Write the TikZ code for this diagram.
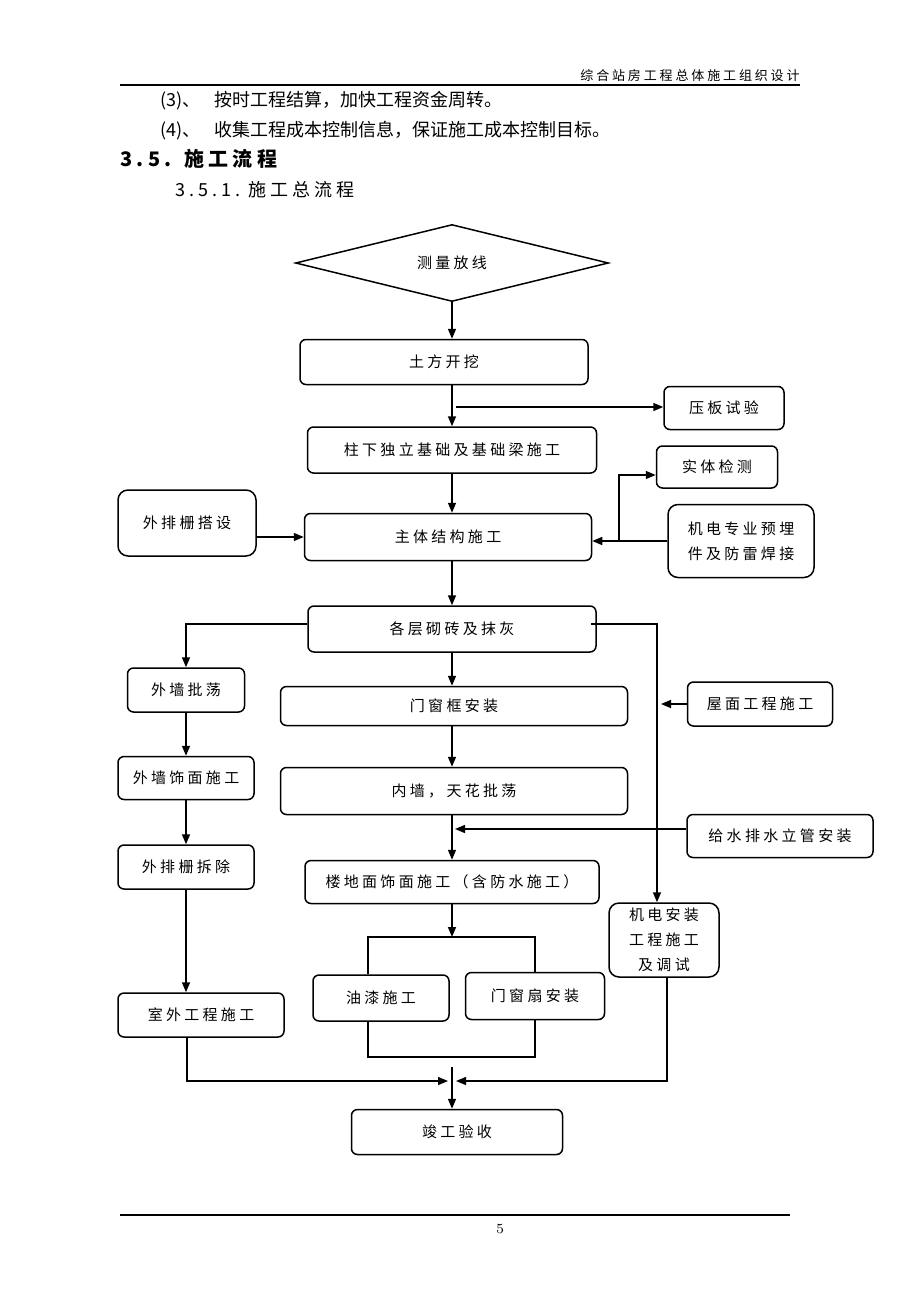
\documentclass[tikz,border=0pt]{standalone}
\usepackage{fontspec}
\newfontfamily\cjk[LetterSpace=22]{Noto Sans CJK SC}
\newfontfamily\cjktext{Noto Sans CJK SC}
\usetikzlibrary{shapes.geometric,arrows.meta}
\begin{document}
\begin{tikzpicture}[x=0.5pt,y=-0.5pt,
  box/.style={draw, rounded corners=3pt, line width=0.75pt, inner sep=0pt, align=center,
    font=\cjk\fontsize{7.5}{12.5}\selectfont},
  arr/.style={line width=0.75pt, -{Triangle[length=5pt,width=4pt]}},
  ln/.style={line width=0.75pt}]
\useasboundingbox (0,0) rectangle (920,1302);

% page head and text
\node[anchor=base east, inner sep=0pt, font=\cjk\fontsize{6.5}{8}\selectfont] (head) at (800,80) {综合站房工程总体施工组织设计};
\draw[line width=1pt] (120,85) -- (800,85);
\node[anchor=base west, inner sep=0pt, font=\cjktext\fontsize{9}{11}\selectfont] (p3) at (160,106) {(3)、\hspace{7pt}按时工程结算，加快工程资金周转。};
\node[anchor=base west, inner sep=0pt, font=\cjktext\fontsize{9}{11}\selectfont] (p4) at (160,136) {(4)、\hspace{7pt}收集工程成本控制信息，保证施工成本控制目标。};
\node[anchor=base west, inner sep=0pt, font=\cjk\bfseries\fontsize{10}{12}\selectfont] (s35) at (120,166) {3.5.\hspace{6pt}施工流程};
\node[anchor=base west, inner sep=0pt, font=\cjk\fontsize{9}{11}\selectfont] (s351) at (175,196) {3.5.1.\hspace{4pt}施工总流程};

% boxes
\node[draw, diamond, shape aspect=4, line width=0.75pt, minimum width=156.5pt, minimum height=38.5pt, inner sep=0pt,
  font=\cjk\fontsize{7.5}{12.5}\selectfont] (celiang) at (452,263) {测量放线};
\node[box, minimum width=144pt, minimum height=22.5pt] (tufang) at (444,362) {土方开挖};
\node[box, minimum width=60pt, minimum height=21.5pt] (yaban) at (724,408) {压板试验};
\node[box, minimum width=144.5pt, minimum height=23pt] (jichu) at (452,450) {柱下独立基础及基础梁施工};
\node[box, minimum width=60.5pt, minimum height=21pt] (shiti) at (717,467) {实体检测};
\node[box, minimum width=143.5pt, minimum height=23.5pt] (zhuti) at (448,537) {主体结构施工};
\node[box, rounded corners=5pt, minimum width=69pt, minimum height=33pt] (dajian) at (187,523) {外排栅搭设};
\node[box, rounded corners=5pt, minimum width=73pt, minimum height=36.5pt] (yumai) at (741,541) {机电专业预埋\\件及防雷焊接};
\node[box, minimum width=144pt, minimum height=23pt] (qizhuan) at (452,629) {各层砌砖及抹灰};
\node[box, minimum width=58.5pt, minimum height=22pt] (waiqiang) at (186,690) {外墙批荡};
\node[box, minimum width=68pt, minimum height=21.5pt] (shimian) at (186,778) {外墙饰面施工};
\node[box, minimum width=68pt, minimum height=22pt] (chaichu) at (186,867) {外排栅拆除};
\node[box, minimum width=83pt, minimum height=22pt] (shiwai) at (201,1015) {室外工程施工};
\node[box, minimum width=173.5pt, minimum height=19.5pt] (menkuang) at (454,706) {门窗框安装};
\node[box, minimum width=173.5pt, minimum height=23.5pt] (neiqiang) at (454,791) {内墙，天花批荡};
\node[box, minimum width=147pt, minimum height=21.5pt] (loudi) at (452,882) {楼地面饰面施工（含防水施工）};
\node[box, minimum width=72.5pt, minimum height=22pt] (wumian) at (760,704) {屋面工程施工};
\node[box, minimum width=93pt, minimum height=21.5pt] (geishui) at (780,836) {给水排水立管安装};
\node[box, rounded corners=5pt, minimum width=55pt, minimum height=37pt] (jidian) at (664,940) {机电安装\\工程施工\\及调试};
\node[box, minimum width=68pt, minimum height=23pt] (youqi) at (381,998) {油漆施工};
\node[box, minimum width=69.5pt, minimum height=23.5pt] (shanmen) at (535,996) {门窗扇安装};
\node[box, minimum width=105.5pt, minimum height=22.5pt] (jungong) at (457,1132) {竣工验收};

% free ends of the connectors
\coordinate (ybstart) at (456,407);
\coordinate (stup) at (619,541);
\coordinate (wmend) at (661,704);
\coordinate (gsend) at (455,829);
\coordinate (bt1) at (368,937);
\coordinate (bt2) at (535,937);
\coordinate (bb1) at (368,1057);
\coordinate (bb2) at (535,1057);
\coordinate (swfoot) at (187,1037);
\coordinate (jl) at (448,1081);
\coordinate (jr) at (456,1081);
\coordinate (jgtop) at (452,1067);

% main line
\draw[arr] (celiang.south) -- (celiang.south |- tufang.north);
\draw[arr] (jichu.north |- tufang.south) -- (jichu.north);
\draw[arr] (ybstart) -- (ybstart -| yaban.west);
\draw[arr] (jichu.south) -- (jichu.south |- zhuti.north);
\draw[arr] (dajian.east |- zhuti.west) -- (zhuti.west);
\draw[arr] (yumai.west) -- (yumai.west -| zhuti.east);
\draw[arr] (stup) |- ([yshift=-4pt]shiti.west);
\draw[arr] (qizhuan.north |- zhuti.south) -- (qizhuan.north);
\draw[arr] ([yshift=2.5pt]qizhuan.west) -| (waiqiang.north);
\draw[arr] ([yshift=2.5pt,xshift=-3pt]qizhuan.east) -| ([xshift=-3.5pt]jidian.north);
\draw[arr] (qizhuan.south) -- (qizhuan.south |- menkuang.north);
\draw[arr] (qizhuan.south |- menkuang.south) -- (qizhuan.south |- neiqiang.north);
\draw[arr] (qizhuan.south |- neiqiang.south) -- (loudi.north);
\draw[arr] (wumian.west) -- (wmend);
\draw[arr] ([yshift=3.5pt]geishui.west) -- (gsend);
\draw[arr] (loudi.south) -- (loudi.south |- bt1);

% left column
\draw[arr] (waiqiang.south) -- (shimian.north);
\draw[arr] (shimian.south) -- (chaichu.north);
\draw[arr] (chaichu.south) -- (chaichu.south |- shiwai.north);

% parallel works
\draw[ln] (bt1 |- youqi.north) -- (bt1) -- (bt2) -- (shanmen.north);
\draw[ln] (bb1 |- youqi.south) -- (bb1) -- (bb2) -- (shanmen.south);

% to the end
\draw[arr] (swfoot) |- (jl);
\draw[arr] ([xshift=1.5pt]jidian.south) |- (jr);
\draw[arr] (jgtop) -- (jgtop |- jungong.north);

% page foot
\draw[line width=1pt] (120,1215) -- (790,1215);
\node[font=\fontsize{7}{8}\selectfont] (page) at (500,1229) {5};
\end{tikzpicture}
\end{document}
